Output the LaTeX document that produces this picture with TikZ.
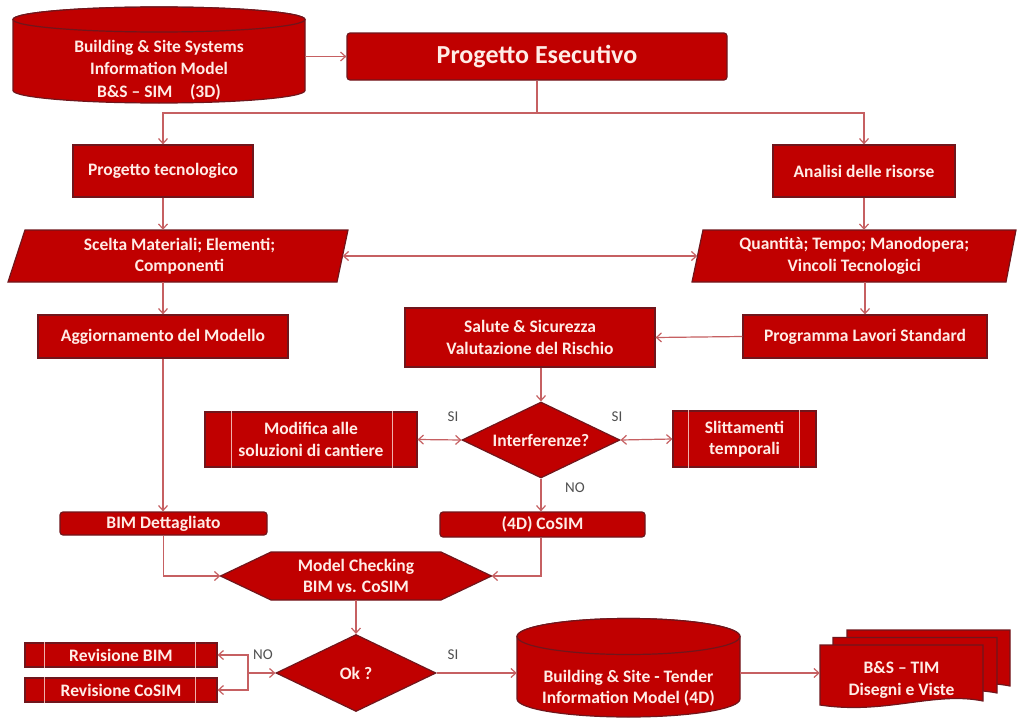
\documentclass[tikz,border=0pt]{standalone}
\usepackage{fontspec}
\setmainfont{Carlito}
\usetikzlibrary{arrows.meta,shapes.geometric}
\definecolor{boxred}{RGB}{192,0,0}
\definecolor{boxedge}{RGB}{112,22,28}
\definecolor{conn}{RGB}{198,96,98}
\definecolor{txt}{RGB}{255,236,230}
\definecolor{lbl}{RGB}{80,80,80}
\begin{document}
\begin{tikzpicture}[x=1pt,y=-1pt,
  shapefill/.style={fill=boxred, draw=boxedge, line width=1.2pt},
  boxfont/.style={font=\bfseries\fontsize{17.5}{21.5}\selectfont},
  box/.style={shapefill, rectangle, inner sep=0pt, text=txt, align=center, boxfont},
  rbox/.style={box, rounded corners=3pt},
  txtnode/.style={inner sep=0pt, text=txt, align=center, boxfont},
  dia/.style={shapefill, diamond, aspect=2, inner sep=0pt, text=txt, align=center, boxfont},
  arr/.style={draw=conn, line width=1.2pt, -{Straight Barb[length=5pt,width=9pt]}},
  biarr/.style={draw=conn, line width=1.2pt, {Straight Barb[length=5pt,width=9pt]}-{Straight Barb[length=5pt,width=9pt]}},
  cline/.style={draw=conn, line width=1.2pt},
  innerline/.style={draw=txt!75!boxred, line width=1.2pt},
  lab/.style={text=lbl, font=\fontsize{15}{17}\selectfont, inner sep=0pt}
]
\useasboundingbox[fill=white] (0,0) rectangle (1018,720);

% ---- Cylinder 1
\path[shapefill] (13,19.5) -- (13,90.5) arc[start angle=180,end angle=0,x radius=146,y radius=12.5] -- (305,19.5) arc[start angle=0,end angle=-180,x radius=146,y radius=12.5] -- cycle;
\path[shapefill] (159,19.5) ellipse[x radius=146,y radius=12.5];
\node[txtnode, minimum width=292, minimum height=60, font=\bfseries\fontsize{17.5}{22.5}\selectfont] (cyl1) at (159,70) {Building \& Site Systems\\Information Model\\B\&S – SIM\quad(3D)};

% ---- Progetto Esecutivo
\node[rbox, minimum width=380, minimum height=47, font=\bfseries\fontsize{26}{30}\selectfont] (esec) at (537,56.5) {Progetto Esecutivo};
\coordinate (split) at (537,113);

\node[box, minimum width=180, minimum height=52] (tecno) at (163,171) {Progetto tecnologico};
\node[box, minimum width=182, minimum height=52] (analisi) at (864,171) {Analisi delle risorse};

% ---- Parallelograms
\path[shapefill] (25,230) -- (348,230) -- (337,282) -- (8,282) -- cycle;
\node[txtnode, minimum width=326, minimum height=52] (scelta) at (179.5,256) {Scelta Materiali; Elementi;\\Componenti};
\path[shapefill] (703,230) -- (1016,230) -- (1006,282) -- (692,282) -- cycle;
\node[txtnode, minimum width=313.5, minimum height=52] (quant) at (854.25,256) {Quantità; Tempo; Manodopera;\\Vincoli Tecnologici};

\node[box, minimum width=250, minimum height=43] (aggiorn) at (163,336.5) {Aggiornamento del Modello};
\node[box, minimum width=250, minimum height=59] (salute) at (530,337.5) {Salute \& Sicurezza\\Valutazione del Rischio};
\node[box, minimum width=244, minimum height=43] (programma) at (865,336.5) {Programma Lavori Standard};

% ---- Interferenze
\node[dia, minimum width=158, minimum height=76] (interf) at (541,440) {Interferenze?};
\node[box, minimum width=212, minimum height=55] (modifica) at (311,439.5) {Modifica alle\\soluzioni di cantiere};
\draw[innerline] ([xshift=27]modifica.north west) -- ([xshift=27]modifica.south west);
\draw[innerline] ([xshift=-25]modifica.north east) -- ([xshift=-25]modifica.south east);
\node[box, minimum width=143, minimum height=56] (slitt) at (744.5,439) {Slittamenti\\temporali};
\draw[innerline] ([xshift=16]slitt.north west) -- ([xshift=16]slitt.south west);
\draw[innerline] ([xshift=-17]slitt.north east) -- ([xshift=-17]slitt.south east);

\node[rbox, minimum width=207, minimum height=23] (bimdet) at (163.5,523.5) {BIM Dettagliato};
\node[rbox, minimum width=205, minimum height=25] (cosim) at (542.5,524.5) {(4D) CoSIM};

% ---- Model checking hexagon
\path[shapefill] (220.5,576) -- (271,552) -- (441,552) -- (491.5,576) -- (441,600) -- (271,600) -- cycle;
\node[txtnode, minimum width=271, minimum height=48] (check) at (356,576) {Model Checking\\BIM vs. CoSIM};

% ---- Ok
\node[dia, minimum width=160, minimum height=77] (ok) at (356,673) {Ok ?};
\node[box, minimum width=192, minimum height=24] (revbim) at (121,655) {Revisione BIM};
\draw[innerline] ([xshift=20]revbim.north west) -- ([xshift=20]revbim.south west);
\draw[innerline] ([xshift=-22]revbim.north east) -- ([xshift=-22]revbim.south east);
\node[box, minimum width=192, minimum height=24] (revcosim) at (121,690) {Revisione CoSIM};
\draw[innerline] ([xshift=20]revcosim.north west) -- ([xshift=20]revcosim.south west);
\draw[innerline] ([xshift=-22]revcosim.north east) -- ([xshift=-22]revcosim.south east);
\coordinate (jn) at (248,673);

% ---- Cylinder 2
\path[shapefill] (517,636.5) -- (517,699) arc[start angle=180,end angle=0,x radius=111.5,y radius=18] -- (740,636.5) arc[start angle=0,end angle=-180,x radius=111.5,y radius=18] -- cycle;
\path[shapefill] (628.5,636.5) ellipse[x radius=111.5,y radius=18];
\node[txtnode, minimum width=223, minimum height=50] (cyl2) at (628.5,688) {Building \& Site - Tender\\Information Model (4D)};

% ---- Documents
\path[shapefill] (847,630) -- (1010,630) -- (1010,686) .. controls (961,676) and (912,700) .. (847,690) -- cycle;
\path[shapefill] (833,637.5) -- (997,637.5) -- (997,693) .. controls (948,683) and (899,707) .. (833,697) -- cycle;
\path[shapefill] (820,645) -- (983,645) -- (983,701) .. controls (934,691) and (885,715) .. (820,705) -- cycle;
\node[txtnode, minimum width=163, minimum height=50] (docs) at (901.5,680) {B\&S – TIM\\Disegni e Viste};

% ---- Connectors
\draw[arr] (cyl1.east |- esec.west) -- (esec.west);
\draw[cline] (esec.south) -- (split);
\draw[arr] (split) -| (tecno.north);
\draw[arr] (split) -| (analisi.north);
\draw[arr] (tecno.south) -- (tecno.south |- scelta.north);
\draw[arr] (analisi.south) -- (analisi.south |- quant.north);
\draw[biarr] (scelta.east) -- (quant.west);
\draw[arr] (aggiorn.north |- scelta.south) -- (aggiorn.north);
\draw[arr] (programma.north |- quant.south) -- (programma.north);
\draw[arr] (programma.west) -- (salute.east);
\draw[arr] (interf.north |- salute.south) -- (interf.north);
\draw[biarr] (interf.west) -- (modifica.east);
\draw[biarr] (interf.east) -- (slitt.west);
\draw[arr] (interf.south) -- (interf.south |- cosim.north);
\draw[arr] (aggiorn.south) -- (aggiorn.south |- bimdet.north);
\draw[arr] (bimdet.south) |- (check.west);
\draw[arr] (interf.south |- cosim.south) |- (check.east);
\draw[arr] (check.south) -- (ok.north);
\draw[arr] (jn) -- (ok.west);
\draw[arr] (jn) |- (revbim.east);
\draw[arr] (jn) |- (revcosim.east);
\draw[arr] (ok.east) -- (ok.east -| cyl2.west);
\draw[arr] (ok.east -| cyl2.east) -- (ok.east -| docs.west);

% ---- Labels
\node[lab] (si1) at (453,417) {SI};
\node[lab] (si2) at (617,417) {SI};
\node[lab] (no1) at (575,488) {NO};
\node[lab] (no2) at (263,655) {NO};
\node[lab] (si3) at (453,655) {SI};
\end{tikzpicture}
\end{document}
